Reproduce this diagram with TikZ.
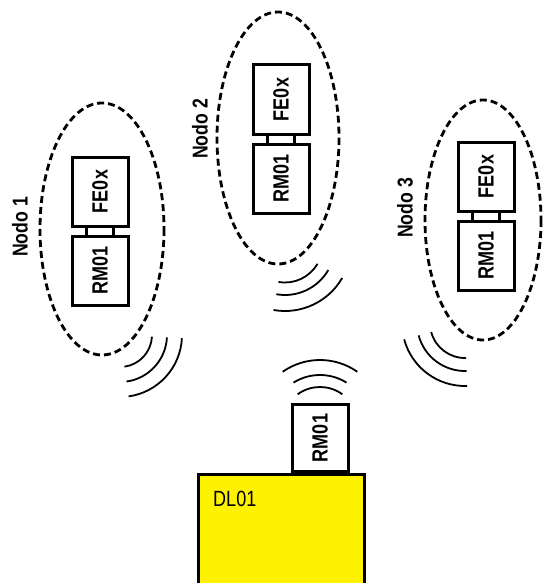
\documentclass[tikz,border=0pt]{standalone}
\usepackage{fontspec}
\setmainfont{Liberation Sans}
\newfontfamily\narrowfont[FakeStretch=0.82]{Liberation Sans}
\newfontfamily\narrowbold[FakeStretch=0.82]{Liberation Sans Bold}
\usetikzlibrary{calc}
\begin{document}
\begin{tikzpicture}[x=1pt,y=-1pt,
  box/.style={draw,line width=3pt,fill=white,minimum width=56pt,minimum height=69pt,inner sep=0pt,
    font=\narrowbold\fontsize{22}{22}\selectfont},
  lbl/.style={font=\narrowbold\fontsize{21.5}{21.5}\selectfont,rotate=90,inner sep=0pt},
  zone/.style={line width=2.8pt,dash pattern=on 7pt off 4pt},
  wave/.style={line width=1.8pt},
  link/.style={line width=3pt}]
\useasboundingbox (0,0) rectangle (545,583);

% zones
\draw[zone] (102,229) ellipse [x radius=62, y radius=126];
\draw[zone] (278,138) ellipse [x radius=61, y radius=126];
\draw[zone] (483,220) ellipse [x radius=58, y radius=120];

% node 1
\node[box] (fe1) at (100,191.5) {\rotatebox{90}{FE0x}};
\node[box] (rm1) at (100,270.5) {\rotatebox{90}{RM01}};
\draw[link] ($(fe1.south)+(-13.5,0)$) -- ($(rm1.north)+(-13.5,0)$);
\draw[link] ($(fe1.south)+(13.5,0)$) -- ($(rm1.north)+(13.5,0)$);
\node[lbl] (n1) at (20,227) {Nodo 1};

% node 2
\node[box] (fe2) at (281,99.5) {\rotatebox{90}{FE0x}};
\node[box] (rm2) at (281,178.5) {\rotatebox{90}{RM01}};
\draw[link] ($(fe2.south)+(-13.5,0)$) -- ($(rm2.north)+(-13.5,0)$);
\draw[link] ($(fe2.south)+(13.5,0)$) -- ($(rm2.north)+(13.5,0)$);
\node[lbl] (n2) at (200,129) {Nodo 2};

% node 3
\node[box] (fe3) at (486,176.5) {\rotatebox{90}{FE0x}};
\node[box] (rm3) at (486,255.5) {\rotatebox{90}{RM01}};
\draw[link] ($(fe3.south)+(-13.5,0)$) -- ($(rm3.north)+(-13.5,0)$);
\draw[link] ($(fe3.south)+(13.5,0)$) -- ($(rm3.north)+(13.5,0)$);
\node[lbl] (n3) at (405,208) {Nodo 3};

% base station
\node[draw,line width=3pt,fill=yellow,minimum width=166pt,minimum height=130pt,inner sep=0pt,anchor=north west] (dl) at (197,473) {};
\node[box,minimum height=67pt,anchor=south] (rmb) at (320,473) {\rotatebox{90}{RM01}};
\node[anchor=base west,inner sep=0pt,font=\narrowfont\fontsize{22}{22}\selectfont] (dltxt) at (213,506) {DL01};

% waves node 1
\coordinate (w1) at (120,335);
\foreach \r in {32,47,62}
  \draw[wave] ($(w1)+(3:\r)$) arc[start angle=3, end angle=82, radius=\r];
% waves node 2
\coordinate (w2) at (285,245);
\foreach \r in {37.5,50,66}
  \draw[wave] ($(w2)+(30:\r)$) arc[start angle=30, end angle=100, radius=\r];
% waves node 3
\coordinate (w3) at (465,323);
\foreach \r in {35,48,63}
  \draw[wave] ($(w3)+(88:\r)$) arc[start angle=88, end angle=165, radius=\r];
% waves base
\coordinate (wb) at (320,425);
\draw[wave] ($(wb)+(-126:38)$) arc[start angle=-126, end angle=-54, radius=38];
\draw[wave] ($(wb)+(-122:50)$) arc[start angle=-122, end angle=-58, radius=50];
\draw[wave] ($(wb)+(-125:65)$) arc[start angle=-125, end angle=-55, radius=65];
\end{tikzpicture}
\end{document}
